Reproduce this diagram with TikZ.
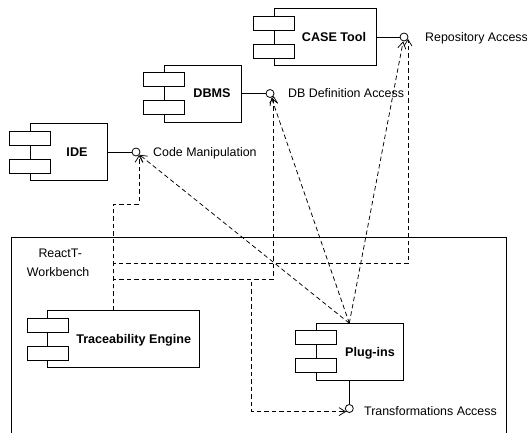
\documentclass[tikz,border=0pt]{standalone}
\usepackage{fontspec}
\setmainfont{Liberation Sans}
\usetikzlibrary{arrows.meta}
\begin{document}
\begin{tikzpicture}[x=1pt,y=-1pt,
  comp/.style={draw, line width=0.8pt, minimum height=57pt, inner sep=0pt},
  port/.style={draw, fill=white, line width=0.8pt, minimum width=41pt, minimum height=14pt, inner sep=0pt},
  clabel/.style={font=\bfseries\fontsize{12.6}{14}\selectfont, inner sep=0pt, anchor=base},
  ilabel/.style={font=\fontsize{12.4}{14}\selectfont, inner sep=0pt, anchor=base west},
  lolly/.style={draw, circle, minimum size=8pt, inner sep=0pt, line width=0.8pt, fill=white},
  solidl/.style={line width=0.8pt},
  dep/.style={dash pattern=on 4.5pt off 3pt, line width=0.75pt, -{Straight Barb[length=6.5pt,width=8pt]}},
]
\useasboundingbox (0,0) rectangle (527,433);

% package
\coordinate (pkg-bl) at (11.7,433);
\coordinate (pkg-tl) at (11.7,237.7);
\coordinate (pkg-tr) at (506.7,237.7);
\coordinate (pkg-br) at (506.7,433);
\draw[solidl] (pkg-bl) -- (pkg-tl) -- (pkg-tr) -- (pkg-br);
\node[ilabel] (pkg-l1) at (38.3,257.2) {ReactT-};
\node[ilabel] (pkg-l2) at (26.7,276.2) {Workbench};

% CASE Tool
\node[comp, minimum width=102pt] (case) at (325,37) {};
\node[port] (case-p1) at ([yshift=14pt]case.west) {};
\node[port] (case-p2) at ([yshift=-14pt]case.west) {};
\node[clabel] (case-l) at (334,41.5) {CASE Tool};

% DBMS
\node[comp, minimum width=77pt] (dbms) at (202.5,93.5) {};
\node[port] (dbms-p1) at ([yshift=14pt]dbms.west) {};
\node[port] (dbms-p2) at ([yshift=-14pt]dbms.west) {};
\node[clabel] (dbms-l) at (212,98) {DBMS};

% IDE
\node[comp, minimum width=77pt] (ide) at (68.7,152) {};
\node[port] (ide-p1) at ([yshift=14pt]ide.west) {};
\node[port] (ide-p2) at ([yshift=-14pt]ide.west) {};
\node[clabel] (ide-l) at (77,156.5) {IDE};

% Traceability Engine
\node[comp, minimum width=152pt] (te) at (123.8,339.3) {};
\node[port] (te-p1) at ([yshift=14pt]te.west) {};
\node[port] (te-p2) at ([yshift=-14pt]te.west) {};
\node[clabel] (te-l) at (133.7,343.8) {Traceability Engine};

% Plug-ins
\node[comp, minimum width=87pt] (pi) at (360,351.7) {};
\node[port] (pi-p1) at ([yshift=14pt]pi.west) {};
\node[port] (pi-p2) at ([yshift=-14pt]pi.west) {};
\node[clabel] (pi-l) at (370,356) {Plug-ins};

% interfaces
\node[lolly] (repacc) at (404,37) {};
\draw[solidl] (case) -- (repacc);
\node[ilabel] (repacc-l) at (425,41.5) {Repository Access};

\node[lolly] (dbacc) at (270,93.5) {};
\draw[solidl] (dbms) -- (dbacc);
\node[ilabel] (dbacc-l) at (288,98) {DB Definition Access};

\node[lolly] (codeacc) at (136,152) {};
\draw[solidl] (ide) -- (codeacc);
\node[ilabel] (codeacc-l) at (153,156.5) {Code Manipulation};

\node[lolly] (tacc) at (349.3,408.5) {};
\draw[solidl] (pi.south -| tacc) -- (tacc);
\node[ilabel] (tacc-l) at (364,415.5) {Transformations Access};

% dependencies
\coordinate (tetop) at (113.7,310.8);
\coordinate (pitop) at (349.3,323.2);
\draw[dep] (tetop) -- (113.7,204) -| (codeacc.-45);
\draw[dep] (tetop) -- (113.7,263.3) -| (repacc.-25);
\draw[dep] (tetop) -- (113.7,279) -| (dbacc.-35);
\draw[dep] (tetop) -- (113.7,279) -- (251.7,279) |- (tacc.-135);
\draw[dep] (pitop) -- (codeacc);
\draw[dep] (pitop) -- (dbacc);
\draw[dep] (pitop) -- (repacc);
\end{tikzpicture}
\end{document}
